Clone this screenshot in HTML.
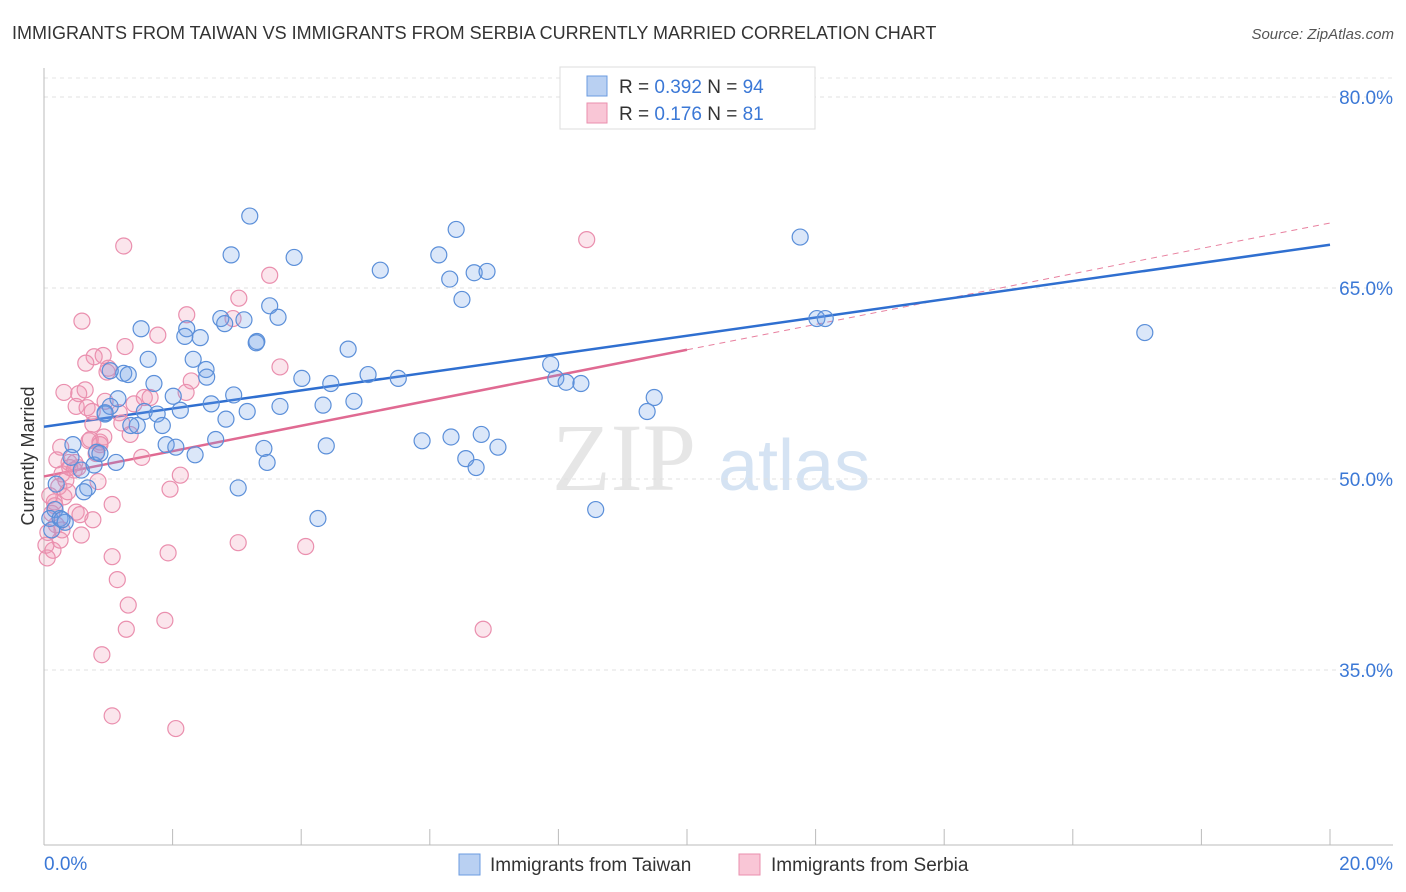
<!DOCTYPE html>
<html><head><meta charset="utf-8">
<style>
body{margin:0;background:#fff;font-family:"Liberation Sans",sans-serif;}
#wrap{position:relative;width:1406px;height:892px;overflow:hidden;}
</style></head>
<body>
<div id="wrap">
<svg id="chart" width="1406" height="892" xmlns="http://www.w3.org/2000/svg">
<text x="12" y="39" font-size="18" fill="#333">IMMIGRANTS FROM TAIWAN VS IMMIGRANTS FROM SERBIA CURRENTLY MARRIED CORRELATION CHART</text>
<text x="1394" y="39" font-size="15" fill="#555" font-style="italic" text-anchor="end">Source: ZipAtlas.com</text>
<text x="0" y="0" font-size="18" fill="#333" transform="translate(34,456) rotate(-90)" text-anchor="middle">Currently Married</text>
<g>
<text x="552" y="490" font-size="96" fill="#e6e6e6" font-family="Liberation Serif,serif">ZIP</text>
<text x="718" y="490" font-size="72" fill="#d5e3f3">atlas</text>
</g>
<g id="grid"></g><g id="axes"></g><g id="lines"></g><g id="pts"></g>
<g>
<rect x="560" y="67" width="255" height="62" fill="#fff" stroke="#ddd"/>
<rect x="587" y="76" width="20" height="20" fill="#b9d0f2" stroke="#6b9be0"/>
<rect x="587" y="103" width="20" height="20" fill="#f9c6d6" stroke="#ea8fae"/>
<text x="619" y="93" font-size="19" fill="#333">R = <tspan fill="#3b78d6">0.392</tspan>   N = <tspan fill="#3b78d6">94</tspan></text>
<text x="619" y="120" font-size="19" fill="#333">R =  <tspan fill="#3b78d6">0.176</tspan>   N =  <tspan fill="#3b78d6">81</tspan></text>
</g>
<g>
<rect x="459" y="854" width="21" height="21" fill="#b9d0f2" stroke="#6b9be0"/>
<text x="490" y="871" font-size="19" fill="#333">Immigrants from Taiwan</text>
<rect x="739" y="854" width="21" height="21" fill="#f9c6d6" stroke="#ea8fae"/>
<text x="771" y="871" font-size="19" fill="#333">Immigrants from Serbia</text>
</g>
</svg>
</div>
<script>
const yTicks=[80,65,50,35];
const yTickLabels=["80.0%","65.0%","50.0%","35.0%"];
const xTickVals=[0,2,4,6,8,10,12,14,16,18,20];
const xEndLabels=["0.0%","20.0%"];
const taiwanX=[3.20,2.91,3.89,6.14,6.41,5.23,6.31,6.69,6.89,6.50,11.76,17.12,12.02,12.15,3.51,3.64,2.75,2.81,3.11,1.51,2.22,2.19,2.43,3.31,3.30,1.62,2.32,1.24,1.03,1.31,2.52,2.53,4.73,4.01,4.46,5.04,5.51,1.71,2.95,2.01,1.15,4.82,2.60,3.67,4.34,1.56,1.76,2.12,3.16,0.95,2.83,1.45,1.84,1.35,2.67,1.90,2.05,2.35,3.42,4.39,5.88,6.33,6.80,7.06,6.56,6.72,3.47,3.02,4.26,8.58,7.88,7.96,8.12,8.35,9.49,9.38,0.45,0.58,0.78,0.42,0.68,0.62,1.12,0.82,0.19,0.17,0.09,0.25,0.33,0.12,0.28,1.03,0.95,0.87];
const taiwanY=[70.65,67.6,67.4,67.6,69.6,66.4,65.7,66.2,66.3,64.1,69.0,61.5,62.6,62.6,63.6,62.7,62.6,62.2,62.5,61.8,61.8,61.2,61.1,60.8,60.7,59.4,59.4,58.3,58.5,58.2,58.6,58.0,60.2,57.9,57.5,58.2,57.9,57.5,56.6,56.5,56.3,56.1,55.9,55.7,55.8,55.3,55.1,55.4,55.3,55.1,54.7,54.2,54.2,54.2,53.1,52.7,52.5,51.9,52.4,52.6,53.0,53.3,53.5,52.5,51.6,50.9,51.3,49.3,46.9,47.6,59.0,57.9,57.6,57.5,56.4,55.3,52.7,50.7,51.1,51.7,49.3,49.0,51.3,52.1,49.6,47.6,46.9,46.9,46.6,46.0,46.8,55.7,55.2,52.0];
const serbiaX=[1.24,8.44,3.51,3.03,0.59,2.22,2.94,1.77,1.26,0.78,0.92,0.65,1.00,3.67,2.29,0.31,0.54,0.64,0.95,1.40,2.21,1.56,0.50,0.67,1.17,0.76,0.26,0.70,0.87,0.93,1.34,0.20,0.39,0.53,1.52,2.12,1.96,0.84,0.23,0.31,0.34,0.16,0.12,0.50,0.76,0.17,0.58,1.06,0.14,0.05,1.06,1.93,3.02,4.07,1.14,1.31,1.28,1.88,0.90,1.06,2.05,6.83,0.28,0.40,0.48,0.72,0.87,0.19,0.25,0.03,0.06,0.09,0.28,0.37,0.98,0.75,0.47,0.81,1.21,1.65,0.56];
const serbiaY=[68.3,68.8,66.0,64.2,62.4,62.9,62.6,61.3,60.4,59.6,59.7,59.1,58.7,58.8,57.7,56.8,56.7,57.0,56.1,55.9,56.8,56.4,55.7,55.6,55.2,54.3,52.5,53.0,52.9,53.3,53.5,51.5,51.3,50.9,51.7,50.3,49.2,49.8,49.4,48.6,49.9,48.2,47.3,47.4,46.8,47.9,45.6,48.0,44.4,43.8,43.9,44.2,45.0,44.7,42.1,40.1,38.2,38.9,36.2,31.4,30.4,38.2,50.4,50.9,51.3,53.1,52.7,46.4,45.2,44.8,45.8,48.7,46.0,49.0,58.4,55.3,50.7,52.0,54.4,56.4,47.2];
const taiwanTrend=[54.1,68.4];   // value at x=0 and x=20
const serbiaTrend=[50.2,70.1];   // value at x=0 and x=20
const serbiaSolidEnd=10;

const NS="http://www.w3.org/2000/svg";
const X0=44,X1=1330,XMAX=20;
const xs=v=>X0+(X1-X0)*v/XMAX;
const ys=v=>97+(80-v)*(191/15);
function mk(tag,attrs,parent){const e=document.createElementNS(NS,tag);for(const k in attrs)e.setAttribute(k,attrs[k]);parent.appendChild(e);return e;}
const grid=document.getElementById('grid'),axes=document.getElementById('axes'),lines=document.getElementById('lines'),pts=document.getElementById('pts');
mk('line',{x1:X0,x2:1393,y1:78,y2:78,stroke:'#e4e4e4','stroke-dasharray':'4,4'},grid);
yTicks.forEach((t,i)=>{
 const l=mk('line',{x1:X0,x2:1393,y1:ys(t),y2:ys(t),stroke:'#e0e0e0','stroke-dasharray':'4,4'},grid);
 
 
 const tx=mk('text',{x:1393,y:ys(t)+7,'font-size':19,fill:'#3b78d6','text-anchor':'end'},axes);
 tx.textContent=yTickLabels[i];
 
 
});
const ya=mk('line',{x1:X0,x2:X0,y1:68,y2:845,stroke:'#bbb'},axes);


const xa=mk('line',{x1:X0,x2:1393,y1:845,y2:845,stroke:'#bbb'},axes);


xTickVals.forEach(v=>{
 const t=mk('line',{x1:xs(v),x2:xs(v),y1:829,y2:845,stroke:'#bbb'},axes);
 
 
});
const xl0=mk('text',{x:44,y:870,'font-size':19,fill:'#3b78d6'},axes);xl0.textContent=xEndLabels[0];


const xl1=mk('text',{x:1393,y:870,'font-size':19,fill:'#3b78d6','text-anchor':'end'},axes);xl1.textContent=xEndLabels[1];



function dots(X,Y,fill,stroke,name){
 X.forEach((x,i)=>{
  const c=mk('circle',{cx:xs(x),cy:ys(Y[i]),r:8,fill:fill,stroke:stroke,'stroke-width':1.2},pts);
  
  
 });
}
dots(serbiaX,serbiaY,'rgba(240,150,180,0.25)','#ea8fae','serbia-point');
dots(taiwanX,taiwanY,'rgba(110,160,230,0.25)','#5b8fd9','taiwan-point');

const sv=x=>serbiaTrend[0]+(serbiaTrend[1]-serbiaTrend[0])*x/XMAX;
const tv=x=>taiwanTrend[0]+(taiwanTrend[1]-taiwanTrend[0])*x/XMAX;
const sd=mk('line',{x1:xs(serbiaSolidEnd),y1:ys(sv(serbiaSolidEnd)),x2:xs(XMAX),y2:ys(sv(XMAX)),stroke:'#e8809f','stroke-width':1,'stroke-dasharray':'6,5'},lines);


const ss=mk('line',{x1:xs(0),y1:ys(sv(0)),x2:xs(serbiaSolidEnd),y2:ys(sv(serbiaSolidEnd)),stroke:'#e06a92','stroke-width':2.5},lines);


const tl=mk('line',{x1:xs(0),y1:ys(tv(0)),x2:xs(XMAX),y2:ys(tv(XMAX)),stroke:'#2f6fd0','stroke-width':2.5},lines);


</script>
</body></html>
